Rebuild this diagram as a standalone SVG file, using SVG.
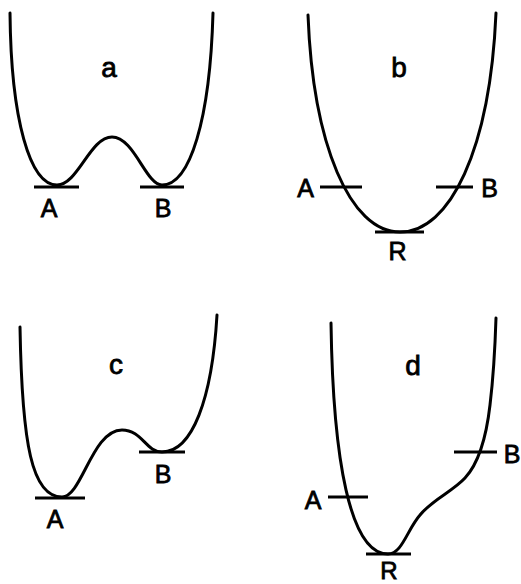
<svg xmlns="http://www.w3.org/2000/svg" width="521" height="584" viewBox="0 0 521 584">
<style>
.c{fill:none;stroke:#000;stroke-width:3;stroke-linecap:round;stroke-linejoin:round}
.bar{stroke:#000;stroke-width:3}
text{font-family:"Liberation Sans",Arial,sans-serif;fill:#000;text-anchor:middle;stroke:#000;stroke-width:0.8}
.cap{font-size:25px}
.lc{font-size:28px}
</style>
<rect width="521" height="584" fill="#fff"/>
<g id="panel-a">
<path class="c" d="M10,13 C11,120 30,185 57,185 C78,185 90,137 112,137 C134,137 146,185 162,185 C190,185 210,120 213,13"/>
<line class="bar" x1="34" y1="187" x2="79" y2="187"/>
<line class="bar" x1="140" y1="187" x2="184" y2="187"/>
<text class="lc" x="109" y="77">a</text>
<text class="cap" x="49" y="217">A</text>
<text class="cap" x="163" y="217">B</text>
</g>
<g id="panel-b">
<path class="c" d="M308,15 C313,145 350,232 400,232 C450,232 490,150 496,13"/>
<line class="bar" x1="320" y1="187" x2="362" y2="187"/>
<line class="bar" x1="436" y1="187" x2="473" y2="187"/>
<line class="bar" x1="375" y1="232" x2="424" y2="232"/>
<text class="lc" x="399" y="77">b</text>
<text class="cap" x="305.5" y="197">A</text>
<text class="cap" x="489.5" y="197">B</text>
<text class="cap" x="397.5" y="260">R</text>
</g>
<g id="panel-c">
<path class="c" d="M20,327 C22,445 32,497 62,497 C82,497 92,430 122,430 C142,430 146,452 162,452 C192,452 212,400 217,315"/>
<line class="bar" x1="35" y1="498" x2="85" y2="498"/>
<line class="bar" x1="139" y1="452" x2="185" y2="452"/>
<text class="lc" x="116" y="374">c</text>
<text class="cap" x="55" y="528">A</text>
<text class="cap" x="163" y="483">B</text>
</g>
<g id="panel-d">
<path class="c" d="M331,323 C333,460 350,554 388,554 C402,554 407,530 420,515 C433,499 452,492 465,478 C478,464 486,440 490,405 C493,380 495,350 496,318"/>
<line class="bar" x1="328" y1="497" x2="368" y2="497"/>
<line class="bar" x1="454" y1="452" x2="497" y2="452"/>
<line class="bar" x1="366" y1="554" x2="411" y2="554"/>
<text class="lc" x="413" y="375">d</text>
<text class="cap" x="313" y="509">A</text>
<text class="cap" x="512" y="463">B</text>
<text class="cap" x="389" y="579" style="font-size:24px">R</text>
</g>
</svg>
